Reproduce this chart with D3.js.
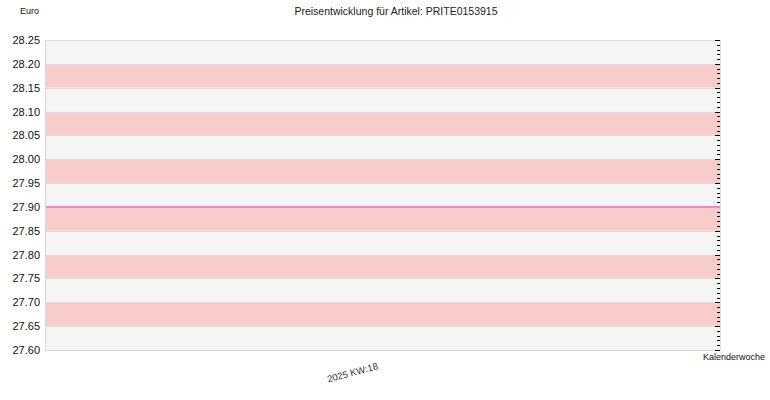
<!DOCTYPE html>
<html>
<head>
<meta charset="utf-8">
<script src="https://cdn.jsdelivr.net/npm/d3@7"></script>
<style>
  body { margin: 0; background: #fff; }
  text { font-family: "Liberation Sans", Arial, sans-serif; }
</style>
</head>
<body>
<div id="chart"></div>
<script>
// data
const weeks = ["2025  KW:18"];
const prices = [27.9];
const yTicks = [27.60, 27.65, 27.70, 27.75, 27.80, 27.85, 27.90, 27.95, 28.00, 28.05, 28.10, 28.15, 28.20, 28.25];

const w = 770;
const h = 400;
const m = { left: 45, right: 50, top: 40, bottom: 50 };

const svg = d3
  .select("#chart")
  .append("svg")
  .attr("width", w)
  .attr("height", h);

// scales
const x = d3
  .scalePoint()
  .domain(weeks)
  .range([m.left, w - m.right])
  .padding(0.5);

const y = d3
  .scaleLinear()
  .domain([27.6, 28.25])
  .range([h - m.bottom, m.top]);

// background bands
const bands = d3.pairs(yTicks);
svg
  .append("g")
  .selectAll("rect")
  .data(bands)
  .enter()
  .append("rect")
  .attr("x", m.left)
  .attr("width", w - m.right - m.left)
  .attr("y", (d) => y(d[1]))
  .attr("height", (d) => y(d[0]) - y(d[1]))
  .attr("fill", (d, i) => (i % 2 == 1 ? "#f9cccc" : "#f5f5f5"));

// grid lines
svg
  .append("g")
  .selectAll("line")
  .data(yTicks)
  .enter()
  .append("line")
  .attr("x1", m.left)
  .attr("x2", w - m.right)
  .attr("y1", (d) => Math.round(y(d)) + 0.5)
  .attr("y2", (d) => Math.round(y(d)) + 0.5)
  .attr("stroke", "#dddddd");

// frame left and bottom
svg
  .append("path")
  .attr("d", `M${m.left + 0.5},${m.top}V${h - m.bottom + 0.5}H${w - m.right}`)
  .attr("fill", "none")
  .attr("stroke", "#d8d8d8");
svg
  .append("line")
  .attr("x1", w - m.right + 0.5)
  .attr("x2", w - m.right + 0.5)
  .attr("y1", m.top)
  .attr("y2", h - m.bottom)
  .attr("stroke", "#dddddd");

// y axis labels on the left
const yAxis = d3.axisLeft(y).tickValues(yTicks).tickSize(0).tickPadding(5).tickFormat(d3.format(".2f"));
svg
  .append("g")
  .attr("transform", `translate(${m.left},0)`)
  .call(yAxis)
  .call((g) => g.select(".domain").remove())
  .selectAll("text")
  .attr("font-size", 11)
  .attr("fill", "#111");

// right side minor ticks (inside)
const minor = d3.range(0, 66).map((i) => 27.6 + i * 0.01);
svg
  .append("g")
  .selectAll("line")
  .data(minor)
  .enter()
  .append("line")
  .attr("x1", (d, i) => w - m.right - (i % 5 == 0 ? 5 : 3))
  .attr("x2", w - m.right)
  .attr("y1", (d) => Math.round(y(d)) + 0.5)
  .attr("y2", (d) => Math.round(y(d)) + 0.5)
  .attr("stroke", "#000");

// price line
const lineY = y(prices[0]);
svg
  .append("line")
  .attr("x1", m.left + 1)
  .attr("x2", w - m.right)
  .attr("y1", lineY)
  .attr("y2", lineY)
  .attr("stroke", "#ee88cc")
  .attr("stroke-width", 2);

// x axis label
svg
  .append("g")
  .selectAll("text")
  .data(weeks)
  .enter()
  .append("text")
  .attr("transform", (d) => `translate(${x(d) - 4},${h - m.bottom + 19}) rotate(-15)`)
  .attr("text-anchor", "end")
  .attr("font-size", 9.5)
  .attr("fill", "#333")
  .text((d) => d);

// titles
svg
  .append("text")
  .attr("x", w / 2 + 11)
  .attr("y", 15)
  .attr("text-anchor", "middle")
  .attr("font-size", 10.5)
  .attr("fill", "#222")
  .text("Preisentwicklung für Artikel: PRITE0153915");

svg
  .append("text")
  .attr("x", 20)
  .attr("y", 14)
  .attr("font-size", 9)
  .attr("fill", "#111")
  .text("Euro");

svg
  .append("text")
  .attr("x", 765)
  .attr("y", 360)
  .attr("text-anchor", "end")
  .attr("font-family", "DejaVu Sans Mono")
  .attr("font-size", 9)
  .attr("fill", "#111")
  .text("Kalenderwoche");
</script>
</body>
</html>
